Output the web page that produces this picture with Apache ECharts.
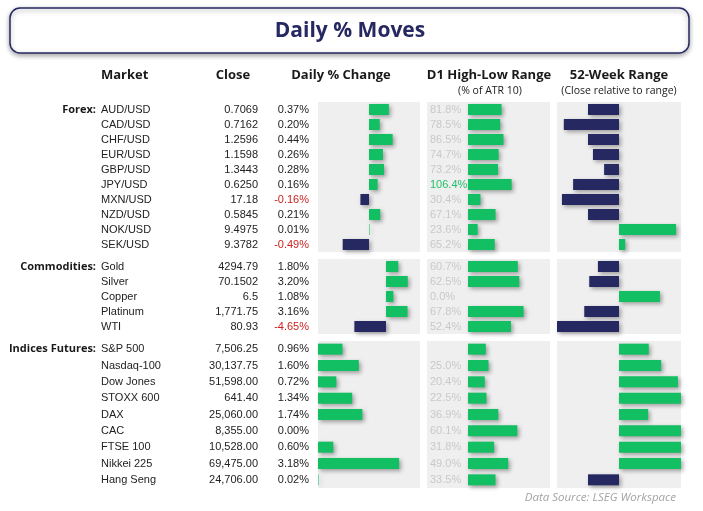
<!DOCTYPE html>
<html>
<head>
<meta charset="utf-8">
<script src="https://cdn.jsdelivr.net/npm/echarts@6/dist/echarts.min.js"></script>
<style>
  html, body { margin: 0; padding: 0; background: #fff; }
  #chart { width: 703px; height: 511px; }
</style>
</head>
<body>
<div id="chart"></div>
<script>
// forex
const forexNames = ['AUD/USD', 'CAD/USD', 'CHF/USD', 'EUR/USD', 'GBP/USD', 'JPY/USD', 'MXN/USD', 'NZD/USD', 'NOK/USD', 'SEK/USD'];
const forexClose = ['0.7069', '0.7162', '1.2596', '1.1598', '1.3443', '0.6250', '17.18', '0.5845', '9.4975', '9.3782'];
const forexChg = [0.37, 0.20, 0.44, 0.26, 0.28, 0.16, -0.16, 0.21, 0.01, -0.49];
const forexD1 = [81.8, 78.5, 86.5, 74.7, 73.2, 106.4, 30.4, 67.1, 23.6, 65.2];
const forexWeek = [-50, -89, -50, -42, -24, -74, -92, -50, 92, 10];

// commodities
const commNames = ['Gold', 'Silver', 'Copper', 'Platinum', 'WTI'];
const commClose = ['4294.79', '70.1502', '6.5', '1,771.75', '80.93'];
const commChg = [1.80, 3.20, 1.08, 3.16, -4.65];
const commD1 = [60.7, 62.5, 0.0, 67.8, 52.4];
const commWeek = [-34, -48, 66, -56, -100];

// indices futures
const idxNames = ['S&P 500', 'Nasdaq-100', 'Dow Jones', 'STOXX 600', 'DAX', 'CAC', 'FTSE 100', 'Nikkei 225', 'Hang Seng'];
const idxClose = ['7,506.25', '30,137.75', '51,598.00', '641.40', '25,060.00', '8,355.00', '10,528.00', '69,475.00', '24,706.00'];
const idxChg = [0.96, 1.60, 0.72, 1.34, 1.74, 0.00, 0.60, 3.18, 0.02];
const idxD1 = [21.7, 25.0, 20.4, 22.5, 36.9, 60.1, 31.8, 49.0, 33.5];
const idxWeek = [48, 68, 95, 100, 47, 100, 100, 100, -50];

// D1 labels not shown in the source
const hideD1Label = ['S&P 500'];

const green = '#12bf62';
const navy = '#262862';
const rowFont = '"Liberation Sans", Arial, sans-serif';
const headFont = '"Open Sans", sans-serif';

const sections = [
  { label: 'Forex:', top: 102, height: 150, names: forexNames, close: forexClose, chg: forexChg, d1: forexD1, wk: forexWeek, chgMin: -0.95, chgMax: 0.95, d1Min: -100, d1Max: 200 },
  { label: 'Commodities:', top: 259, height: 75, names: commNames, close: commClose, chg: commChg, d1: commD1, wk: commWeek, chgMin: -10, chgMax: 5, d1Min: -50, d1Max: 100 },
  { label: 'Indices Futures:', top: 341, height: 147, names: idxNames, close: idxClose, chg: idxChg, d1: idxD1, wk: idxWeek, chgMin: 0, chgMax: 4, d1Min: -50, d1Max: 100 }
];

const chart = echarts.init(document.getElementById('chart'));

const grid = [], xAxis = [], yAxis = [], series = [];
const barShadow = { shadowBlur: 4, shadowColor: 'rgba(0,0,0,0.35)', shadowOffsetX: 2, shadowOffsetY: 2 };
const signColor = p => (p.value < 0 ? navy : green);

function catAxis(gi, s, extra) {
  return Object.assign({
    gridIndex: gi, type: 'category', inverse: true, position: 'left', data: s.names,
    axisLine: { show: false }, axisTick: { show: false }, splitLine: { show: false }
  }, extra);
}

sections.forEach((s, si) => {
  const cols = [
    { left: 318, width: 102, min: s.chgMin, max: s.chgMax },
    { left: 427, width: 123, min: s.d1Min, max: s.d1Max },
    { left: 557, width: 124, min: -100, max: 100 }
  ];
  cols.forEach(c => {
    grid.push({ left: c.left, top: s.top, width: c.width, height: s.height, show: true, backgroundColor: '#efefef', borderWidth: 0, containLabel: false, outerBoundsMode: 'none' });
    xAxis.push({ gridIndex: grid.length - 1, type: 'value', min: c.min, max: c.max, show: false });
  });
  const g0 = si * 3, y0 = si * 5;

  // market names, close, daily % text
  yAxis.push(catAxis(g0, s, { axisLabel: { interval: 0, align: 'left', margin: 217, color: '#222', fontSize: 11, fontFamily: rowFont } }));
  yAxis.push(catAxis(g0, s, { axisLabel: { interval: 0, align: 'right', margin: 60, color: '#222', fontSize: 11, fontFamily: rowFont, formatter: (v, i) => s.close[i] } }));
  yAxis.push(catAxis(g0, s, {
    axisLabel: {
      interval: 0, align: 'right', margin: 9, fontSize: 11, fontFamily: rowFont,
      formatter: (v, i) => (s.chg[i] < 0 ? '{r|' : '{k|') + s.chg[i].toFixed(2) + '%}',
      rich: { r: { color: '#cc1f1f', fontSize: 11, fontFamily: rowFont }, k: { color: '#222', fontSize: 11, fontFamily: rowFont } }
    }
  }));
  // D1 percentage labels
  yAxis.push(catAxis(g0 + 1, s, {
    axisLabel: {
      interval: 0, align: 'left', margin: -3, fontSize: 11, fontFamily: rowFont,
      formatter: (v, i) => hideD1Label.includes(s.names[i]) ? '' : (s.d1[i] > 100 ? '{g|' : '{n|') + s.d1[i].toFixed(1) + '%}',
      rich: { g: { color: '#22c06a', fontSize: 11, fontFamily: rowFont }, n: { color: '#c9c9c9', fontSize: 11, fontFamily: rowFont } }
    }
  }));
  // 52-week
  yAxis.push(catAxis(g0 + 2, s, { axisLabel: { show: false } }));

  series.push({ type: 'bar', xAxisIndex: g0, yAxisIndex: y0, data: s.chg, barWidth: 11, itemStyle: Object.assign({ color: signColor }, barShadow), silent: true });
  series.push({ type: 'bar', xAxisIndex: g0 + 1, yAxisIndex: y0 + 3, data: s.d1, barWidth: 11, itemStyle: Object.assign({ color: green }, barShadow), silent: true });
  series.push({ type: 'bar', xAxisIndex: g0 + 2, yAxisIndex: y0 + 4, data: s.wk, barWidth: 11, itemStyle: Object.assign({ color: signColor }, barShadow), silent: true });
});

const headStyle = (text, x, y, size, weight, align) => ({
  type: 'text', x: x, y: y, silent: true,
  style: { text: text, font: (weight || 'bold') + ' ' + size + 'px ' + headFont, fill: '#1a1a1a', align: align || 'center', verticalAlign: 'middle' }
});

const graphic = [
  { type: 'rect', shape: { x: 10, y: 8, width: 679, height: 45, r: 10 }, style: { fill: '#fff', stroke: navy, lineWidth: 1.5, shadowBlur: 5, shadowColor: 'rgba(0,0,0,0.35)', shadowOffsetY: 2 }, silent: true },
  { type: 'text', x: 350, y: 31, silent: true, style: { text: 'Daily % Moves', font: 'bold 21px ' + headFont, fill: navy, align: 'center', verticalAlign: 'middle' } },
  headStyle('Market', 101, 75, 13, 'bold', 'left'),
  headStyle('Close', 233, 75, 13),
  headStyle('Daily % Change', 341, 75, 13),
  headStyle('D1 High-Low Range', 489, 75, 13),
  headStyle('52-Week Range', 619, 75, 13),
  headStyle('(% of ATR 10)', 490, 91, 10.5, 'normal'),
  headStyle('(Close relative to range)', 619, 91, 10.5, 'normal'),
  { type: 'text', x: 676, y: 498, silent: true, style: { text: 'Data Source: LSEG Workspace', font: 'italic 11.5px ' + headFont, fill: '#a3a3a3', align: 'right', verticalAlign: 'middle' } }
];
sections.forEach((s, si) => {
  const rowH = s.height / s.names.length;
  graphic.push({ type: 'text', x: 96, y: s.top + rowH / 2, silent: true, style: { text: s.label, font: 'bold 11px ' + headFont, fill: '#1a1a1a', align: 'right', verticalAlign: 'middle' } });
});

chart.setOption({
  animation: false,
  grid: grid,
  xAxis: xAxis,
  yAxis: yAxis,
  series: series,
  graphic: graphic
});
</script>
</body>
</html>
